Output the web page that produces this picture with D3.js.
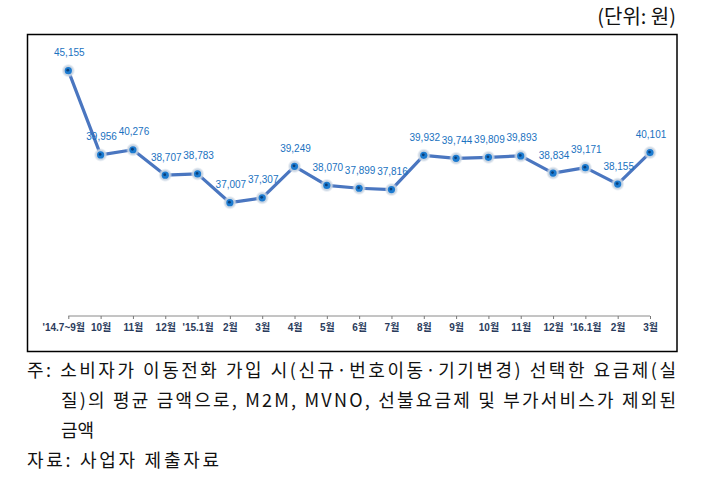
<!DOCTYPE html>
<html><head><meta charset="utf-8">
<script src="https://cdn.jsdelivr.net/npm/d3@7"></script>
<style>
html,body{margin:0;padding:0;background:#fff;}
svg{display:block;}
</style>
</head><body>
<svg id="chart" width="713" height="487"></svg>
<script>
const categories = ["'14.7~9월","10월","11월","12월","'15.1월","2월","3월","4월","5월","6월","7월","8월","9월","10월","11월","12월","'16.1월","2월","3월"];
const values = [45155,39956,40276,38707,38783,37007,37307,39249,38070,37899,37816,39932,39744,39809,39893,38834,39171,38155,40101];
const unitLabel = "(단위: 원)";
const noteLines = [
  "주: 소비자가 이동전화 가입 시(신규·번호이동·기기변경) 선택한 요금제(실",
  "질)의 평균 금액으로, M2M, MVNO, 선불요금제 및 부가서비스가 제외된",
  "금액",
  "자료: 사업자 제출자료"
];

const svg = d3.select("#chart");
const keys = categories.map((c,i)=>i);

const x = d3.scalePoint().domain(keys).range([68.3, 650]);
const y = d3.scaleLinear().domain([30000, 47000]).range([316.2, 40.8]);

// unit label
svg.append("text").attr("x", 676).attr("y", 24).attr("text-anchor","end")
  .attr("font-family","'Noto Sans CJK KR', sans-serif").attr("font-size",20).attr("fill","#111")
  .text(unitLabel);

// box
svg.append("rect").attr("x",27.5).attr("y",34.5).attr("width",649.5).attr("height",317)
  .attr("fill","none").attr("stroke","#000").attr("stroke-width",1.5);

// x axis
const axis = d3.axisBottom(x).tickSize(3).tickFormat(i=>categories[i]);
const gx = svg.append("g").attr("transform","translate(0,316)").call(axis);
gx.select(".domain").attr("stroke","#8a8a8a").attr("d","M68.3,0H650");
gx.selectAll(".tick line").attr("stroke","#777");
gx.selectAll(".tick text").attr("font-family","'Liberation Sans', 'Noto Sans CJK KR', sans-serif")
  .attr("font-size",10).attr("font-weight","bold").attr("fill","#2a3b5c").attr("dy","0.9em");
gx.selectAll(".tick").filter(d=>d===0).select("text").attr("dx",-5);

// line
const line = d3.line().x((d,i)=>x(i)).y(d=>y(d));
svg.append("path").datum(values).attr("d",line).attr("fill","none")
  .attr("stroke","#4a76c0").attr("stroke-width",3.2).attr("stroke-linejoin","round");

// markers
const defs = svg.append("defs");
const grad = defs.append("radialGradient").attr("id","halo");
grad.append("stop").attr("offset","0%").attr("stop-color","#c0cedd").attr("stop-opacity",1);
grad.append("stop").attr("offset","70%").attr("stop-color","#c8d4e2").attr("stop-opacity",0.9);
grad.append("stop").attr("offset","100%").attr("stop-color","#dde5ee").attr("stop-opacity",0);
const pts = svg.append("g").selectAll("g").data(values).join("g")
  .attr("transform",(d,i)=>`translate(${x(i)},${y(d)})`);
pts.append("circle").attr("r",7).attr("fill","url(#halo)");
pts.append("circle").attr("r",3.6).attr("fill","#1c7bd0");
pts.append("circle").attr("r",1.4).attr("cx",-0.5).attr("cy",-0.5).attr("fill","#0b3f78");

// data labels
svg.append("g").selectAll("text").data(values).join("text")
  .attr("x",(d,i)=>x(i)+1).attr("y",d=>y(d)-14.5)
  .attr("text-anchor","middle")
  .attr("font-family","'Liberation Sans', Arial, sans-serif").attr("font-size",10)
  .attr("fill","#1a72bf")
  .text(d=>d3.format(",")(d));

// notes
const noteX = [27, 61, 61, 27];
const noteY = [377, 407, 437, 467];
const noteLen = [649, 615, null, 192];
noteLines.forEach((t,i)=>{
  const el = svg.append("text").attr("x",noteX[i]).attr("y",noteY[i])
    .attr("font-family","'Noto Sans CJK KR', sans-serif").attr("font-size",18).attr("fill","#111")
    .text(t);
  if(noteLen[i]) el.attr("textLength",noteLen[i]).attr("lengthAdjust","spacing");
});
</script>
</body></html>
